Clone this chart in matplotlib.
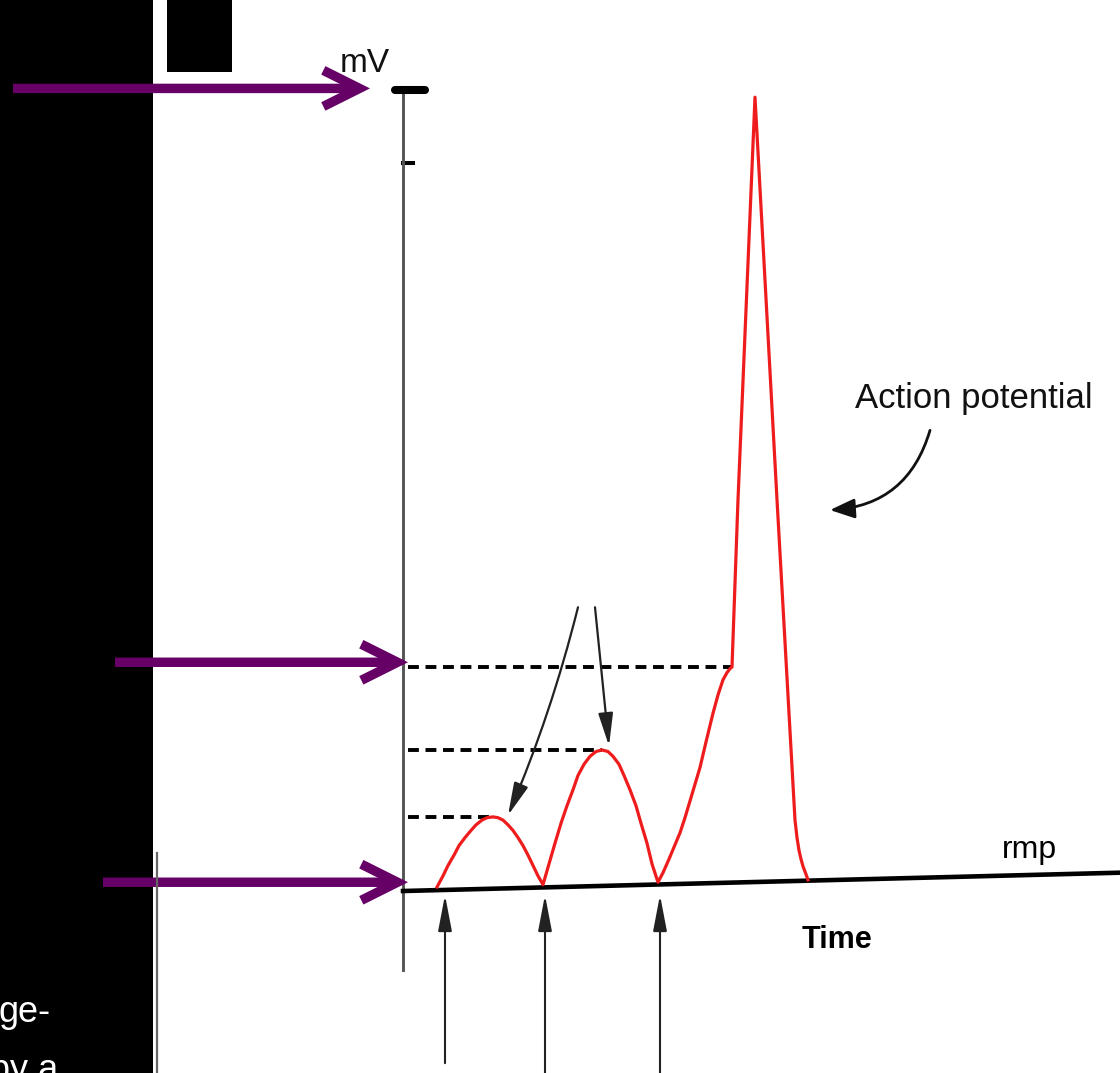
import matplotlib
matplotlib.use('Agg')
import matplotlib.pyplot as plt
from matplotlib.patches import Rectangle

# membrane potential trace (time in a.u., voltage in mV)
time_pts = [32, 38, 43, 49, 54, 60, 66, 71, 77, 82, 88,
            93, 98, 103, 108, 113, 118, 123, 128, 133, 138,
            144, 150, 156, 162, 168, 173, 179, 185, 191, 197,
            203, 208, 214, 219, 225, 231, 236, 242, 247, 253,
            258, 264, 270, 275, 280, 285, 290, 295, 301, 308, 313, 318, 322, 325, 327,
            333, 350, 372, 390, 392, 394, 396, 398, 401, 403]
vm_pts = [-70.0, -68.6, -67.3, -66.0, -64.8, -63.8, -62.9, -62.2, -61.6, -61.3, -61.2,
          -61.3, -61.6, -62.2, -62.9, -63.8, -64.8, -66.0, -67.3, -68.6, -69.7,
          -67.1, -64.5, -62.0, -59.8, -57.8, -56.0, -54.6, -53.6, -53.0, -52.8,
          -53.0, -53.6, -54.6, -56.0, -57.8, -59.8, -62.0, -64.5, -67.1, -69.4,
          -68.2, -66.5, -64.7, -63.2, -61.3, -59.2, -57.1, -55.0, -51.8, -48.2, -45.9, -44.0, -43.1, -42.6, -42.4,
          -21.4, 29.1, -21.4, -61.6, -63.8, -65.4, -66.5, -67.4, -68.4, -69.1]

# resting membrane potential line (slightly tilted in the scan)
rmp_t = [-2, 715]
rmp_v = [-70.5, -68.2]

# dashed guide levels: threshold, 2nd EPSP peak, 1st EPSP peak
dash_levels = [-42.4, -52.8, -61.2]
dash_ends = [327, 197, 88]

# stimulus times (upward arrows)
stim_times = [40, 140, 255]

# axis ticks
tick_levels = [30, 20.8]

# purple pointer arrows: target level on the mV axis and tail position
purple_targets = [(-35, 30.2), (3, -41.8), (3, -69.4)]
purple_tails = [-392, -290, -302]

font = ['Liberation Sans', 'DejaVu Sans']

W, H = 1120, 1073
fig = plt.figure(figsize=(W / 100, H / 100), dpi=100)
fig.patch.set_facecolor('white')

ax = fig.add_axes([403 / W, 1 - 970 / H, (W - 403) / W, 880 / H])
ax.patch.set_visible(False)
ax.set_xlim(-2, 715)
ax.set_ylim(-80.41, 30.0)
for s in ['top', 'right', 'bottom']:
    ax.spines[s].set_visible(False)
ax.spines['left'].set_color('#555555')
ax.spines['left'].set_linewidth(2.1)
ax.set_xticks([])
ax.set_yticks([])

# ticks on the mV axis
ax.plot([-10, 20], [tick_levels[0]] * 2, color='black', lw=5.8,
        solid_capstyle='round', clip_on=False, zorder=5)
ax.plot([-2, 8], [tick_levels[1]] * 2, color='black', lw=2.9, clip_on=False)

# rmp baseline
ax.plot(rmp_t, rmp_v, color='black', lw=3.3, clip_on=False, zorder=3)

# dashed guide lines
for lev, end in zip(dash_levels, dash_ends):
    ax.plot([3, end], [lev, lev], color='black', lw=2.8, dashes=(2.8, 1.7), zorder=2)

# membrane potential
ax.plot(time_pts, vm_pts, color='#ee1c1c', lw=2.3, zorder=4,
        solid_joinstyle='round')

# pointers from the (blank) label to the EPSP peaks
ax.annotate('', xy=(103, -61.0), xytext=(173, -34.9),
            arrowprops=dict(arrowstyle='-|>,head_length=2.0,head_width=0.45',
                            color='#222222', lw=1.6, shrinkA=0, shrinkB=0,
                            connectionstyle='arc3,rad=-0.04'))
ax.annotate('', xy=(204, -52.3), xytext=(190, -34.9),
            arrowprops=dict(arrowstyle='-|>,head_length=2.0,head_width=0.45',
                            color='#222222', lw=1.6, shrinkA=0, shrinkB=0))

# action potential label
ax.text(569, -9.9, 'Action potential', family=font,
        fontsize=25, ha='center', va='baseline', color='#111111')
ax.annotate('', xy=(425, -22.7), xytext=(525, -12.7),
            arrowprops=dict(arrowstyle='-|>,head_length=1.5,head_width=0.6',
                            color='#111111', lw=2.0, shrinkA=0, shrinkB=0,
                            connectionstyle='arc3,rad=-0.35'))

# stimulus arrows below the time axis
for i, t in enumerate(stim_times):
    tail = -92.1 if i == 0 else -95
    ax.annotate('', xy=(t, -71.0), xytext=(t, tail), annotation_clip=False,
                arrowprops=dict(arrowstyle='-|>,head_length=2.2,head_width=0.42',
                                color='#222222', lw=1.5, shrinkA=0, shrinkB=0))

ax.text(432, -77.65, 'Time', family=font, fontsize=22,
        fontweight='bold', ha='center', va='baseline', color='black')
ax.text(624, -66.4, 'rmp', family=font, fontsize=23,
        ha='center', va='baseline', color='black')
ax.text(-40, 32.3, 'mV', family=font, fontsize=24,
        ha='center', va='baseline', color='#111111', clip_on=False)

# black panel on the left side of the slide
fig.add_artist(Rectangle((0, 0), 153 / W, 1, transform=fig.transFigure,
                         facecolor='black', edgecolor='none', zorder=0))
fig.add_artist(Rectangle((167 / W, 1 - 72 / H), 65 / W, 72 / H,
                         transform=fig.transFigure, facecolor='black',
                         edgecolor='none', zorder=0))
fig.add_artist(plt.Line2D([156.5 / W, 156.5 / W], [0, 1 - 853 / H],
                          transform=fig.transFigure, color='#666666', lw=1.6))
fig.text(-2 / W, 1 - 1022 / H, 'ge-', color='white', fontsize=26,
         family=font, va='baseline')
fig.text(-10 / W, 1 - 1080 / H, 'by a', color='white', fontsize=26,
         family=font, va='baseline')

# purple arrows pointing at the axis levels
for (tx, ty), tail in zip(purple_targets, purple_tails):
    ax.annotate('', xy=(tx, ty), xytext=(tail, ty), annotation_clip=False,
                arrowprops=dict(arrowstyle='->,head_length=2.6,head_width=1.3',
                                color='#660066', lw=6.8, shrinkA=0, shrinkB=0,
                                joinstyle='miter', capstyle='butt'))

fig.savefig('out.png', dpi=100, facecolor='white')
